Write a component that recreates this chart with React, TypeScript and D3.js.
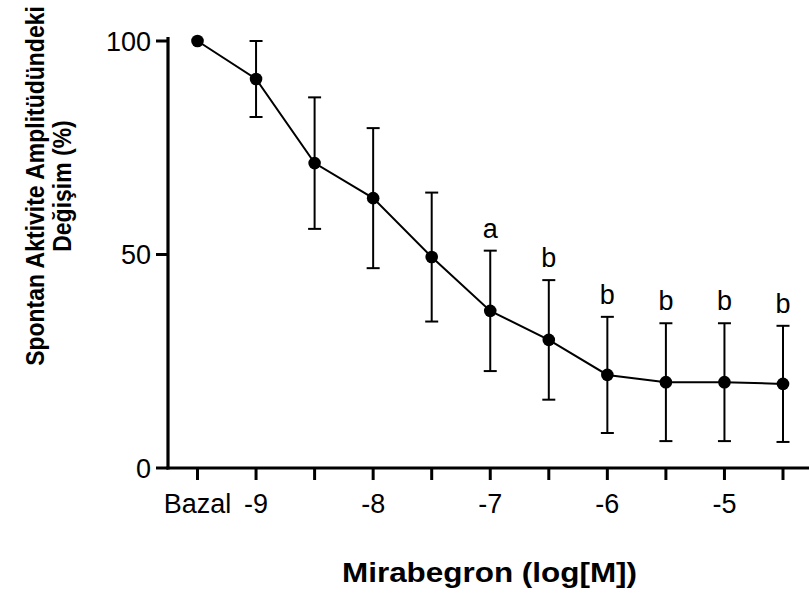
import React from "react";
import * as d3 from "d3";

// Mirabegron concentration-response, values
const categories = ["Bazal", "-9", "-8.5", "-8", "-7.5", "-7", "-6.5", "-6", "-5.5", "-5", "-4.5"];
const tickLabels = ["Bazal", "-9", "", "-8", "", "-7", "", "-6", "", "-5", ""];
const meanValues = [100, 91.1, 71.4, 63.2, 49.4, 36.8, 30.0, 21.8, 20.1, 20.1, 19.7];
const sdValues = [0, 8.9, 15.4, 16.4, 15.1, 14.1, 14.0, 13.6, 13.8, 13.8, 13.6];
const sigLetters = ["", "", "", "", "", "a", "b", "b", "b", "b", "b"];
const yTicks = [0, 50, 100];

const W = 809;
const H = 595;
const FONT = "'Liberation Sans', Arial, Helvetica, sans-serif";

export default function App() {
  const x = d3.scalePoint<string>().domain(categories).range([197.5, 783]);
  const y = d3.scaleLinear().domain([0, 100]).range([468, 41]);

  const axisX = 168;
  const axisY = y(0);

  const rows = categories.map((c, i) => ({
    cat: c,
    mean: meanValues[i],
    sd: sdValues[i],
    letter: sigLetters[i],
    tick: tickLabels[i],
  }));

  const line = d3
    .line<(typeof rows)[number]>()
    .x((d) => x(d.cat) as number)
    .y((d) => y(d.mean));

  return (
    <svg
      width={W}
      height={H}
      viewBox={`0 0 ${W} ${H}`}
      style={{ position: "absolute", left: 0, top: 0, background: "#fff" }}
      fontFamily={FONT}
    >
      <rect width={W} height={H} fill="#fff" />

      {/* axes */}
      <line x1={axisX} x2={axisX} y1={y(100) - 4} y2={axisY + 1.5} stroke="#000" strokeWidth={3.2} />
      <line x1={axisX - 1.5} x2={W} y1={axisY} y2={axisY} stroke="#000" strokeWidth={3.2} />

      {yTicks.map((t) => (
        <g key={t}>
          <line x1={axisX - 12} x2={axisX} y1={y(t)} y2={y(t)} stroke="#000" strokeWidth={3} />
          <text x={151} y={y(t)} dy="0.36em" textAnchor="end" fontSize={27} fill="#000">
            {t}
          </text>
        </g>
      ))}

      {rows.map((d) => (
        <g key={d.cat}>
          <line
            x1={x(d.cat)}
            x2={x(d.cat)}
            y1={axisY}
            y2={axisY + 12}
            stroke="#000"
            strokeWidth={3}
          />
          {d.tick && (
            <text x={x(d.cat)} y={513} textAnchor="middle" fontSize={27} fill="#000">
              {d.tick}
            </text>
          )}
        </g>
      ))}

      {/* error bars */}
      {rows
        .filter((d) => d.sd > 0)
        .map((d) => {
          const cx = x(d.cat) as number;
          return (
            <g key={"e" + d.cat} stroke="#000" strokeWidth={2}>
              <line x1={cx} x2={cx} y1={y(d.mean + d.sd)} y2={y(d.mean - d.sd)} />
              <line x1={cx - 6.5} x2={cx + 6.5} y1={y(d.mean + d.sd)} y2={y(d.mean + d.sd)} />
              <line x1={cx - 6.5} x2={cx + 6.5} y1={y(d.mean - d.sd)} y2={y(d.mean - d.sd)} />
            </g>
          );
        })}

      <path d={line(rows) || ""} fill="none" stroke="#000" strokeWidth={2} />

      {rows.map((d) => (
        <circle key={"p" + d.cat} cx={x(d.cat)} cy={y(d.mean)} r={6.3} fill="#000" />
      ))}

      {/* significance letters */}
      {rows
        .filter((d) => d.letter)
        .map((d) => (
          <text
            key={"l" + d.cat}
            x={x(d.cat)}
            y={y(d.mean + d.sd) - 13}
            textAnchor="middle"
            fontSize={27}
            fill="#000"
          >
            {d.letter}
          </text>
        ))}

      {/* axis titles */}
      <text
        transform="translate(44,186) scale(1.12,1) rotate(-90)"
        textAnchor="middle"
        fontSize={23}
        fontWeight="bold"
        fill="#000"
      >
        Spontan Aktivite Amplitüdündeki
      </text>
      <text
        transform="translate(71,186) scale(1.12,1) rotate(-90)"
        textAnchor="middle"
        fontSize={23}
        fontWeight="bold"
        fill="#000"
      >
        Değişim (%)
      </text>
      <text
        x={489.5}
        y={582}
        textAnchor="middle"
        fontSize={27}
        fontWeight="bold"
        fill="#000"
        textLength={295}
        lengthAdjust="spacingAndGlyphs"
      >
        Mirabegron (log[M])
      </text>
    </svg>
  );
}
